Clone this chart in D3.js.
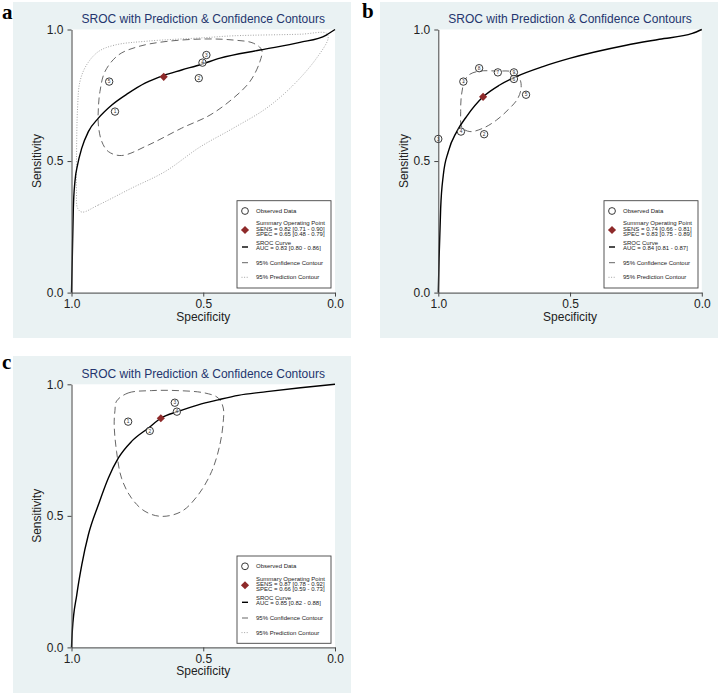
<!DOCTYPE html>
<html><head><meta charset="utf-8">
<script src="https://cdn.jsdelivr.net/npm/d3@7"></script>
<style>body{margin:0;background:#fff}svg{display:block}</style>
</head><body>
<svg id="chart" width="719" height="695"></svg>
<script>
// ---------- DATA ----------
const axisTicks = [0, 0.5, 1];
const titleText = "SROC with Prediction & Confidence Contours";

// Panel a
const studyA = ["5", "1", "2", "3", "4"];
const specA = [0.857, 0.835, 0.517, 0.488, 0.503];
const sensA = [0.802, 0.688, 0.815, 0.903, 0.874];
const summaryA = [0.65, 0.82];
const curveSpecA = [1.0, 0.997, 0.993, 0.987, 0.977, 0.961, 0.936, 0.898, 0.847, 0.784, 0.721, 0.652, 0.582, 0.506, 0.436, 0.285, 0.133, 0.033, 0.0];
const curveSensA = [0.0, 0.131, 0.321, 0.422, 0.485, 0.549, 0.612, 0.663, 0.713, 0.758, 0.796, 0.825, 0.846, 0.868, 0.891, 0.922, 0.951, 0.979, 1.0];
const confSpecA = [0.892, 0.873, 0.822, 0.747, 0.645, 0.493, 0.386, 0.310, 0.278, 0.285, 0.323, 0.386, 0.474, 0.582, 0.708, 0.810, 0.860, 0.885, 0.898, 0.898];
const confSensA = [0.764, 0.840, 0.903, 0.935, 0.954, 0.964, 0.960, 0.948, 0.922, 0.878, 0.802, 0.739, 0.675, 0.625, 0.561, 0.521, 0.536, 0.574, 0.637, 0.701];
const predSpecA = [0.960, 0.898, 0.772, 0.645, 0.513, 0.386, 0.260, 0.158, 0.070, 0.026, 0.033, 0.133, 0.386, 0.493, 0.709, 0.835, 0.898, 0.943, 0.968, 0.977, 0.981, 0.981, 0.977];
const predSensA = [0.306, 0.333, 0.397, 0.460, 0.553, 0.625, 0.701, 0.789, 0.891, 0.967, 0.986, 0.982, 0.976, 0.969, 0.956, 0.941, 0.916, 0.865, 0.802, 0.701, 0.511, 0.384, 0.321];
const legendA = ["Observed Data", "Summary Operating Point", "SENS = 0.82 [0.71 - 0.90]", "SPEC = 0.65 [0.48 - 0.79]", "SROC Curve", "AUC = 0.83 [0.80 - 0.86]", "95% Confidence Contour", "95% Prediction Contour"];

// Panel b
const studyB = ["3", "4", "2", "1", "8", "7", "9", "6", "5"];
const specB = [1.0, 0.914, 0.826, 0.905, 0.845, 0.774, 0.713, 0.713, 0.667];
const sensB = [0.584, 0.612, 0.602, 0.802, 0.853, 0.837, 0.837, 0.812, 0.752];
const summaryB = [0.83, 0.744];
const curveSpecB = [1.0, 0.997, 0.991, 0.981, 0.962, 0.930, 0.893, 0.830, 0.767, 0.704, 0.603, 0.502, 0.287, 0.161, 0.036, 0.0];
const curveSensB = [0.0, 0.131, 0.321, 0.447, 0.536, 0.612, 0.669, 0.744, 0.789, 0.821, 0.859, 0.890, 0.940, 0.963, 0.985, 1.0];
const confSpecB = [0.899, 0.880, 0.842, 0.779, 0.716, 0.690, 0.686, 0.700, 0.735, 0.780, 0.830, 0.880, 0.910, 0.915, 0.912];
const confSensB = [0.808, 0.830, 0.842, 0.842, 0.838, 0.810, 0.775, 0.735, 0.695, 0.655, 0.625, 0.612, 0.628, 0.688, 0.751];
const legendB = ["Observed Data", "Summary Operating Point", "SENS = 0.74 [0.66 - 0.81]", "SPEC = 0.83 [0.75 - 0.89]", "SROC Curve", "AUC = 0.84 [0.81 - 0.87]", "95% Confidence Contour", "95% Prediction Contour"];

// Panel c
const studyC = ["1", "2", "3", "4"];
const specC = [0.785, 0.703, 0.608, 0.600];
const sensC = [0.858, 0.823, 0.930, 0.896];
const summaryC = [0.661, 0.871];
const curveSpecC = [1.0, 0.997, 0.980, 0.961, 0.936, 0.898, 0.860, 0.822, 0.772, 0.708, 0.661, 0.595, 0.519, 0.443, 0.367, 0.259, 0.131, 0.0];
const curveSensC = [0.0, 0.061, 0.200, 0.314, 0.428, 0.542, 0.644, 0.720, 0.783, 0.834, 0.871, 0.897, 0.922, 0.941, 0.958, 0.972, 0.987, 1.0];
const confSpecC = [0.829, 0.785, 0.697, 0.596, 0.494, 0.443, 0.424, 0.424, 0.437, 0.468, 0.519, 0.582, 0.658, 0.721, 0.772, 0.810, 0.829, 0.838, 0.835];
const confSensC = [0.936, 0.967, 0.976, 0.976, 0.967, 0.948, 0.910, 0.859, 0.770, 0.669, 0.580, 0.517, 0.498, 0.517, 0.567, 0.643, 0.745, 0.846, 0.901];
const legendC = ["Observed Data", "Summary Operating Point", "SENS = 0.87 [0.78 - 0.92]", "SPEC = 0.66 [0.59 - 0.73]", "SROC Curve", "AUC = 0.85 [0.82 - 0.88]", "95% Confidence Contour", "95% Prediction Contour"];

// ---------- LAYOUT ----------
const zip = (a, b) => a.map((v, i) => [v, b[i]]);
const panels = [
  {letter: "a", lx: 2, ly: 18.5, bg: [13, 2, 338, 336], plot: [71.5, 29.5], legend: [237, 200.7],
   study: studyA, spec: specA, sens: sensA, summary: summaryA,
   curve: zip(curveSpecA, curveSensA), conf: zip(confSpecA, confSensA), pred: zip(predSpecA, predSensA), legendText: legendA},
  {letter: "b", lx: 362, ly: 17.5, bg: [380, 2, 338, 336], plot: [438.3, 29.5], legend: [604, 200.7],
   study: studyB, spec: specB, sens: sensB, summary: summaryB,
   curve: zip(curveSpecB, curveSensB), conf: zip(confSpecB, confSensB), pred: null, legendText: legendB},
  {letter: "c", lx: 2, ly: 368.5, bg: [13, 356, 338, 337], plot: [71.5, 384.3], legend: [237, 556],
   study: studyC, spec: specC, sens: sensC, summary: summaryC,
   curve: zip(curveSpecC, curveSensC), conf: zip(confSpecC, confSensC), pred: null, legendText: legendC}
];
const PW = 263.5, PH = 263.1;
const FONT = "'Liberation Sans', Arial, sans-serif";
const maroon = "#8e2a2a";
const svg = d3.select("#chart");
const diamond = d3.symbol(d3.symbolDiamond2, 42);

panels.forEach(p => {
  svg.append("rect").attr("x", p.bg[0]).attr("y", p.bg[1]).attr("width", p.bg[2]).attr("height", p.bg[3]).attr("fill", "#eaf2f3");
  svg.append("text").attr("x", p.lx).attr("y", p.ly).text(p.letter)
    .attr("font-family", "'Liberation Serif', 'DejaVu Serif', serif").attr("font-weight", "bold").attr("font-size", 21).attr("fill", "#000");

  const g = svg.append("g").attr("transform", `translate(${p.plot[0]},${p.plot[1]})`);
  const x = d3.scaleLinear().domain([1, 0]).range([0, PW]);
  const y = d3.scaleLinear().domain([0, 1]).range([PH, 0]);

  g.append("rect").attr("width", PW).attr("height", PH).attr("fill", "#fff");

  g.append("text").attr("x", PW / 2).attr("y", -6.8).attr("text-anchor", "middle")
    .attr("font-family", FONT).attr("font-size", 12).attr("fill", "#24356e").text(titleText);

  const closed = d3.line().x(d => x(d[0])).y(d => y(d[1])).curve(d3.curveCatmullRomClosed.alpha(0.5));
  const open = d3.line().x(d => x(d[0])).y(d => y(d[1])).curve(d3.curveMonotoneX);

  if (p.pred) {
    g.append("path").attr("d", closed(p.pred)).attr("fill", "none").attr("stroke", "#9a9a9a")
      .attr("stroke-width", 0.9).attr("stroke-dasharray", "1,1.6");
  }
  g.append("path").attr("d", closed(p.conf)).attr("fill", "none").attr("stroke", "#555")
    .attr("stroke-width", 0.9).attr("stroke-dasharray", "7,4");
  g.append("path").attr("d", open(p.curve)).attr("fill", "none")
    .attr("stroke", "#000").attr("stroke-width", 1.4);

  // observed data
  const obs = g.selectAll("g.obs").data(p.study.map((s, i) => ({s, sp: p.spec[i], se: p.sens[i]}))).join("g")
    .attr("transform", d => `translate(${x(d.sp)},${y(d.se)})`);
  obs.append("circle").attr("r", 3.7).attr("fill", "#fff").attr("fill-opacity", 0.6).attr("stroke", "#222").attr("stroke-width", 0.9);
  obs.append("text").attr("text-anchor", "middle").attr("dy", 1.7).attr("font-family", FONT).attr("font-size", 4.8).attr("fill", "#333").text(d => d.s);

  // summary point
  g.append("path").attr("d", diamond()).attr("fill", maroon)
    .attr("transform", `translate(${x(p.summary[0])},${y(p.summary[1])})`);

  // axes
  const ax = g.append("g").attr("transform", `translate(0,${PH})`)
    .call(d3.axisBottom(x).tickValues(axisTicks).tickFormat(d3.format(".1f")).tickSize(4).tickSizeOuter(0).tickPadding(3));
  const ay = g.append("g")
    .call(d3.axisLeft(y).tickValues(axisTicks).tickFormat(d3.format(".1f")).tickSize(4).tickSizeOuter(0).tickPadding(4));
  [ax, ay].forEach(a => {
    a.selectAll("path,line").attr("stroke", "#444").attr("stroke-width", 1);
    a.selectAll("text").attr("font-family", FONT).attr("font-size", 12).attr("fill", "#222");
  });
  g.append("text").attr("x", PW / 2).attr("y", PH + 28).attr("text-anchor", "middle")
    .attr("font-family", FONT).attr("font-size", 12).attr("fill", "#222").text("Specificity");
  g.append("text").attr("transform", `translate(-30.5,${PH / 2}) rotate(-90)`).attr("text-anchor", "middle")
    .attr("font-family", FONT).attr("font-size", 12).attr("fill", "#222").text("Sensitivity");

  // legend
  const L = svg.append("g").attr("transform", `translate(${p.legend[0]},${p.legend[1]})`);
  L.append("rect").attr("width", 94).attr("height", 87.3).attr("fill", "#fff").attr("stroke", "#444").attr("stroke-width", 0.9);
  const t = p.legendText;
  const lt = (txt, yy) => L.append("text").attr("x", 19).attr("y", yy).attr("font-family", FONT)
    .attr("font-size", 6).attr("fill", "#222").text(txt);
  L.append("circle").attr("cx", 8).attr("cy", 10.3).attr("r", 3.4).attr("fill", "#fff").attr("stroke", "#222").attr("stroke-width", 0.9);
  lt(t[0], 12.4);
  L.append("path").attr("d", diamond()).attr("fill", maroon).attr("transform", "translate(8,29.3)");
  lt(t[1], 24.8); lt(t[2], 30.1); lt(t[3], 35.4);
  L.append("line").attr("x1", 5).attr("x2", 11).attr("y1", 46.3).attr("y2", 46.3).attr("stroke", "#000").attr("stroke-width", 1.4);
  lt(t[4], 44); lt(t[5], 49.3);
  L.append("line").attr("x1", 5).attr("x2", 11).attr("y1", 62).attr("y2", 62).attr("stroke", "#555").attr("stroke-width", 0.9);
  lt(t[6], 64);
  L.append("line").attr("x1", 4.5).attr("x2", 11.5).attr("y1", 76.6).attr("y2", 76.6).attr("stroke", "#9a9a9a").attr("stroke-width", 0.9).attr("stroke-dasharray", "1,1.6");
  lt(t[7], 78.6);
});
</script>
</body></html>
